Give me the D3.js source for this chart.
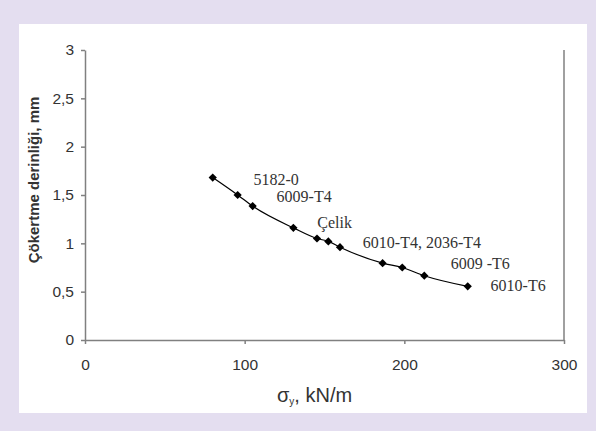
<!DOCTYPE html>
<html>
<head>
<meta charset="utf-8">
<script src="https://cdn.jsdelivr.net/npm/d3@7"></script>
<style>
  body { margin: 0; background: #e4def0; }
  svg { display: block; }
  .tick text { font-family: 'Liberation Sans', Arial, sans-serif; font-size: 15.5px; fill: #333; }
  .tick line, .domain { stroke: #808080; stroke-width: 1.5px; }
  .note { font-family: 'Liberation Serif', 'Times New Roman', serif; font-size: 16px; fill: #333; }
</style>
</head>
<body>
<svg></svg>
<script>
// data
var strength = [80, 95.6, 105, 130.5, 145.3, 152.4, 159.7, 186.4, 198.7, 212.5, 239.7]
var depth = [1.68, 1.5, 1.385, 1.16, 1.05, 1.02, 0.96, 0.795, 0.75, 0.665, 0.555]
var xTicks = [0, 100, 200, 300]
var yTicks = [0, 0.5, 1, 1.5, 2, 2.5, 3]
var noteText = ['5182-0', '6009-T4', 'Çelik', '6010-T4, 2036-T4', '6009 -T6', '6010-T6']
// where each note sits, in data units
var noteX = [105.5, 120, 145.5, 174, 229, 254]
var noteY = [1.605, 1.43, 1.155, 0.955, 0.735, 0.51]

document.addEventListener('DOMContentLoaded', () => {
    var width = 596
    var height = 431
    var left = 85, right = 564, top = 50, bottom = 340

    var svg = d3.select('svg')
        .attr('width', width)
        .attr('height', height)

    // white panel
    svg.append('rect')
        .attr('x', 19)
        .attr('y', 24)
        .attr('width', 568)
        .attr('height', 389)
        .attr('fill', '#fff')

    xScale = d3.scaleLinear()
                .domain([0, 300])
                .range([left, right])

    yScale = d3.scaleLinear()
                .domain([0, 3])
                .range([bottom, top])

    var fmt = d => String(d).replace('.', ',')

    xAxis = d3.axisBottom(xScale)
                .tickValues(xTicks)
                .tickSize(4)
                .tickSizeOuter(0)
                .tickPadding(15)
                .tickFormat(fmt)

    yAxis = d3.axisLeft(yScale)
                .tickValues(yTicks)
                .tickSize(4)
                .tickSizeOuter(0)
                .tickPadding(7)
                .tickFormat(fmt)

    svg.append('g')
        .attr('transform', 'translate(0,' + bottom + ')')
        .call(xAxis)

    svg.append('g')
        .attr('transform', 'translate(' + left + ',0)')
        .call(yAxis)

    // right border line
    svg.append('line')
        .attr('x1', right).attr('x2', right)
        .attr('y1', top).attr('y2', bottom)
        .attr('stroke', '#808080')
        .attr('stroke-width', 1.5)

    var pts = strength.map((s, i) => [s, depth[i]])

    var line = d3.line()
                .x(d => xScale(d[0]))
                .y(d => yScale(d[1]))
                .curve(d3.curveMonotoneX)

    svg.append('path')
        .datum(pts)
        .attr('d', line)
        .attr('fill', 'none')
        .attr('stroke', '#000')
        .attr('stroke-width', 1.2)

    svg.selectAll('.pt')
        .data(pts)
        .enter()
        .append('path')
            .classed('pt', true)
            .attr('d', d3.symbol().type(d3.symbolSquare).size(34))
            .attr('transform', d => 'translate(' + xScale(d[0]) + ',' + yScale(d[1]) + ') rotate(45)')
            .attr('fill', '#000')

    svg.selectAll('.note')
        .data(noteText)
        .enter()
        .append('text')
            .classed('note', true)
            .text(d => d)
            .attr('x', (d, i) => xScale(noteX[i]))
            .attr('y', (d, i) => yScale(noteY[i]))

    // x axis title
    var xt = svg.append('text')
        .attr('x', 277)
        .attr('y', 402)
        .attr('font-family', 'Liberation Sans, Arial, sans-serif')
        .attr('font-size', 20)
        .attr('fill', '#333')
    xt.append('tspan').text('σ')
    xt.append('tspan').text('y').attr('font-size', 10).attr('dy', 3)
    xt.append('tspan').text(', kN/m').attr('dy', -3)

    // y axis title
    svg.append('text')
        .text('Çökertme derinliği, mm')
        .attr('text-anchor', 'middle')
        .attr('font-family', 'Liberation Sans, Arial, sans-serif')
        .attr('font-size', 15)
        .attr('font-weight', 'bold')
        .attr('fill', '#333')
        .attr('transform', 'translate(39,180) rotate(-90)')
})
</script>
</body>
</html>
